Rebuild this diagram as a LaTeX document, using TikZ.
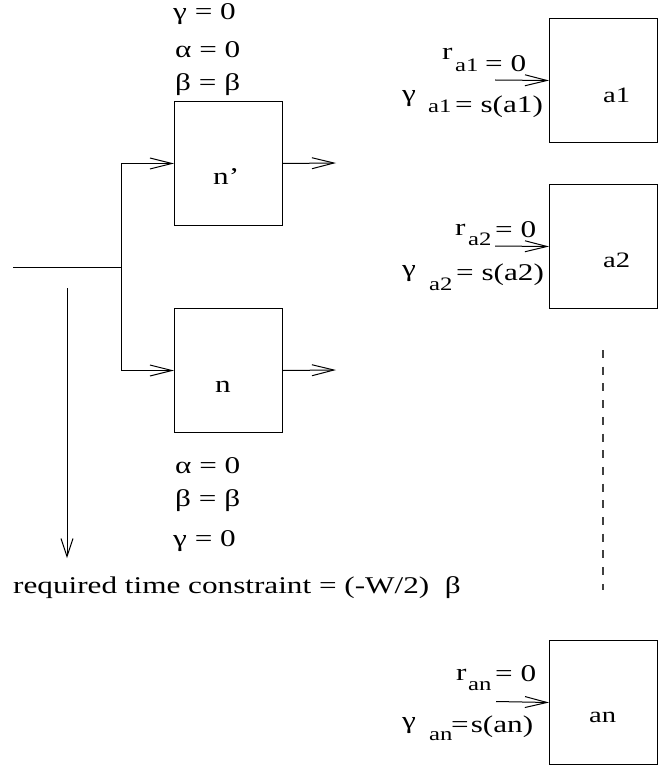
\documentclass[tikz,border=0pt]{standalone}
\usepackage{fontspec}
\setmainfont[FakeStretch=1.3]{Liberation Serif}
\usetikzlibrary{arrows.meta}

\tikzset{
  txt/.style={font=\fontsize{24}{28}\selectfont, inner sep=0pt, anchor=base west},
  subtxt/.style={font=\fontsize{19}{23}\selectfont, inner sep=0pt, anchor=base west},
  boxtxt/.style={font=\fontsize{22}{26}\selectfont, inner sep=0pt, anchor=base west},
  blk/.style={draw, line width=1pt, minimum width=108pt, minimum height=124pt,
              inner sep=0pt, anchor=north west},
  wire/.style={line width=1pt},
  arr/.style={wire, -{Straight Barb[length=22pt, width=11pt, line width=1pt]}},
  darr/.style={wire, -{Straight Barb[length=18pt, width=12pt, line width=1pt]}},
  dots/.style={line width=2pt, draw=black!75, dash pattern=on 8pt off 8.7pt}
}

\begin{document}
\begin{tikzpicture}[x=1pt, y=-1pt]
\useasboundingbox (0,0) rectangle (670,767);

% gate boxes
\node[blk] (np) at (174,101) {};
\node[blk] (n)  at (174,308) {};
\node[txt] (nplbl) at (213,185) {n’};
\node[txt] (nlbl)  at (215,392) {n};

% output boxes
\node[blk] (a1) at (549,18)  {};
\node[blk] (a2) at (549,184) {};
\node[blk] (an) at (549,640) {};
\node[boxtxt] (a1lbl) at (603,103) {a1};
\node[boxtxt] (a2lbl) at (603,267) {a2};
\node[boxtxt] (anlbl) at (589,722) {an};

% fan-out into n' and n
\coordinate (src)  at (13,267);
\coordinate (fork) at (121,267);
\draw[wire] (src) -- (fork);
\draw[arr] (fork) |- (np.west);
\draw[arr] (fork) |- (n.west);
\coordinate (npout) at (336,163);
\coordinate (nout)  at (336,370);
\draw[arr] (np.east) -- (npout);
\draw[arr] (n.east) -- (nout);

% required-time arrow
\coordinate (rtop) at (67,288);
\coordinate (rbot) at (67,558);
\draw[darr] (rtop) -- (rbot);

% inputs of the a-boxes
\coordinate (a1in) at (495,80);
\coordinate (a2in) at (495,246);
\coordinate (anin) at (496,701.5);
\draw[arr] (a1in) -- (a1.west);
\draw[arr] (a2in) -- (a2.west);
\draw[arr] (anin) -- (an.west);

% elided boxes
\coordinate (d1) at (603,350);
\coordinate (d2) at (603,590);
\draw[dots] (d1) -- (d2);

% annotations of n'
\node[txt] (gtop) at (173,20) {γ = 0};
\node[txt] (atop) at (175,58) {α = 0};
\node[txt] (btop) at (175,91) {β = β};

% annotations of n
\node[txt] (abot) at (175,473) {α = 0};
\node[txt] (bbot) at (175,506) {β = β};
\node[txt] (gbot) at (173,546) {γ = 0};

\node[txt] (req) at (13,593) {required time constraint = (-W/2)\ \ β};

% labels of a1
\node[txt]    (ra1)   at (442,60)  {r};
\node[subtxt] (ra1s)  at (455,72)  {a1};
\node[txt]    (ra1v)  at (485,72)  {= 0};
\node[txt]    (ga1)   at (402,102) {γ};
\node[subtxt] (ga1s)  at (428,113) {a1};
\node[txt]    (ga1v)  at (455,113) {= s(a1)};

% labels of a2
\node[txt]    (ra2)   at (455,235) {r};
\node[subtxt] (ra2s)  at (468,245) {a2};
\node[txt]    (ra2v)  at (495,237) {= 0};
\node[txt]    (ga2)   at (402,276) {γ};
\node[subtxt] (ga2s)  at (429,290) {a2};
\node[txt]    (ga2v)  at (456,280) {= s(a2)};

% labels of an
\node[txt]    (ran)   at (456,680) {r};
\node[subtxt] (rans)  at (468,690) {an};
\node[txt]    (ranv)  at (495,681) {= 0};
\node[txt]    (gan)   at (402,728) {γ};
\node[subtxt] (gans)  at (429,740) {an};
\node[txt]    (ganv)  at (451,732) {=\hspace{2pt}s(an)};
\end{tikzpicture}
\end{document}
